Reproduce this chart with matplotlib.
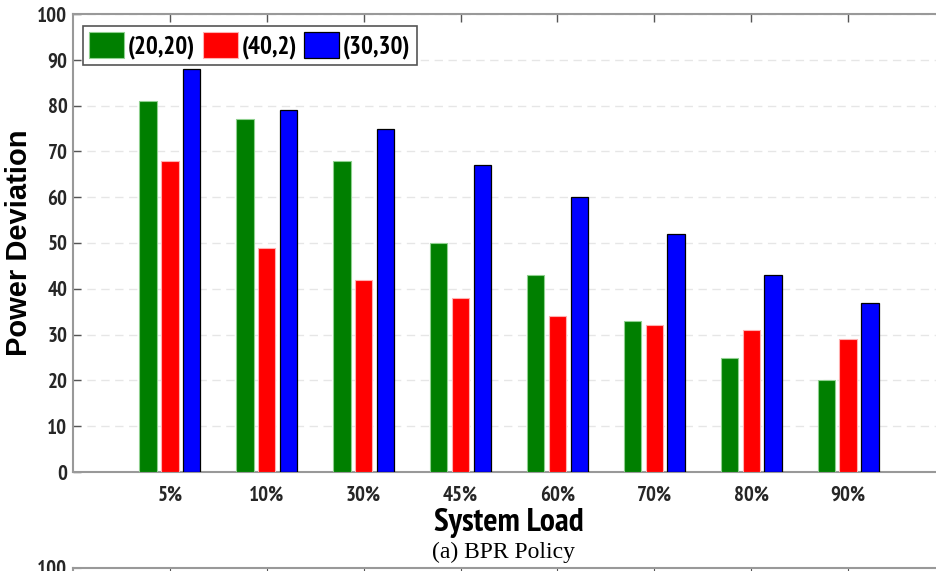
import numpy as np
import matplotlib.pyplot as plt
from matplotlib import font_manager

# the original uses a narrow bold sans; take the first one installed that has a bold face
weights = {}
for f in font_manager.fontManager.ttflist:
    weights.setdefault(f.name, set()).add(f.weight)
narrow = 'Liberation Sans'
for cand in ['Liberation Sans Narrow', 'Arial Narrow', 'Archivo Narrow', 'PT Sans Narrow', 'Roboto Condensed',
             'Pragati Narrow', 'Fira Sans Condensed', 'Encode Sans Condensed', 'Open Sans Condensed',
             'IBM Plex Sans Condensed', 'Asap Condensed', 'Barlow Semi Condensed', 'Sofia Sans Condensed']:
    if any(wt in (700, 'bold') for wt in weights.get(cand, ())):
        narrow = cand
        break

# data
loads = ['5%', '10%', '30%', '45%', '60%', '70%', '80%', '90%']
series_names = ['(20,20)', '(40,2)', '(30,30)']
dev_20_20 = [81, 77, 68, 50, 43, 33, 25, 20]
dev_40_2 = [68, 49, 42, 38, 34, 32, 31, 29]
dev_30_30 = [88, 79, 75, 67, 60, 52, 43, 37]
y_ticks = [0, 10, 20, 30, 40, 50, 60, 70, 80, 90, 100]

fig = plt.figure(figsize=(9.36, 5.71), dpi=100)
# main axes runs past the right edge of the picture, like the cropped original
ax = fig.add_axes([73 / 936, 1 - 472 / 571, 872 / 936, 458 / 571])

x = np.arange(1, len(loads) + 1)
w = 0.18
step = 0.225
ax.bar(x - step, dev_20_20, w, color='#007f00', edgecolor='#8fd08f', linewidth=0.8, label=series_names[0], zorder=3)
ax.bar(x, dev_40_2, w, color='#ff0000', edgecolor='#ffb0b0', linewidth=0.8, label=series_names[1], zorder=3)
ax.bar(x + step, dev_30_30, w, color='#0000ff', edgecolor='#000000', linewidth=0.9, label=series_names[2], zorder=3)

ax.set_xlim(0, 9)
ax.set_ylim(0, 100)
ax.set_xticks(x)
ax.set_xticklabels(loads)
ax.set_yticks(y_ticks)
ax.tick_params(axis='both', direction='in', top=True, right=True, length=6, width=1, color='#555555', labelsize=15)
ax.tick_params(axis='y', pad=4)
ax.tick_params(axis='x', pad=10)
for lab in ax.get_xticklabels() + ax.get_yticklabels():
    lab.set_fontfamily(narrow)
    lab.set_fontweight('bold')
    lab.set_color('#262626')
for s in ax.spines.values():
    s.set_color('#999999')
    s.set_linewidth(1.5)
ax.yaxis.grid(True, linestyle=(0, (6, 4)), color='#e6e6e6', linewidth=1, zorder=0)

ax.set_ylabel('Power Deviation', fontsize=21, fontweight='bold', family='Liberation Sans')
ax.yaxis.set_label_coords(-40 / 872, 0.5)
fig.text(509 / 936, 1 - 523 / 571, 'System Load', ha='center', va='center', fontsize=24, fontweight='bold', family=narrow)
fig.text(503 / 936, 1 - 552 / 571, '(a) BPR Policy', ha='center', va='center', fontsize=17, family='Liberation Serif')

leg = ax.legend(loc='upper left', ncol=3, bbox_to_anchor=(10 / 872, 1 - 12 / 458),
                prop={'family': narrow, 'weight': 'bold', 'size': 18},
                handlelength=1.4, handleheight=1.2, handletextpad=0.15, columnspacing=0.3, borderpad=0.25,
                fancybox=False, framealpha=1, borderaxespad=0)
leg.get_frame().set_edgecolor('#555555')
leg.get_frame().set_linewidth(1.2)

# top of the next panel, cut off by the bottom edge
ax2 = fig.add_axes([73 / 936, -0.6, 872 / 936, 0.6 + 1 - 568 / 571])
ax2.set_xlim(0, 9)
ax2.set_ylim(0, 100)
ax2.set_xticks(x)
ax2.set_xticklabels([])
ax2.set_yticks([100])
ax2.tick_params(axis='both', direction='in', top=True, length=6, color='#555555', labelsize=15, pad=4)
for lab in ax2.get_yticklabels():
    lab.set_fontfamily(narrow)
    lab.set_fontweight('bold')
    lab.set_color('#262626')
for s in ax2.spines.values():
    s.set_color('#999999')
    s.set_linewidth(1.5)

fig.savefig('out.png', dpi=100)
